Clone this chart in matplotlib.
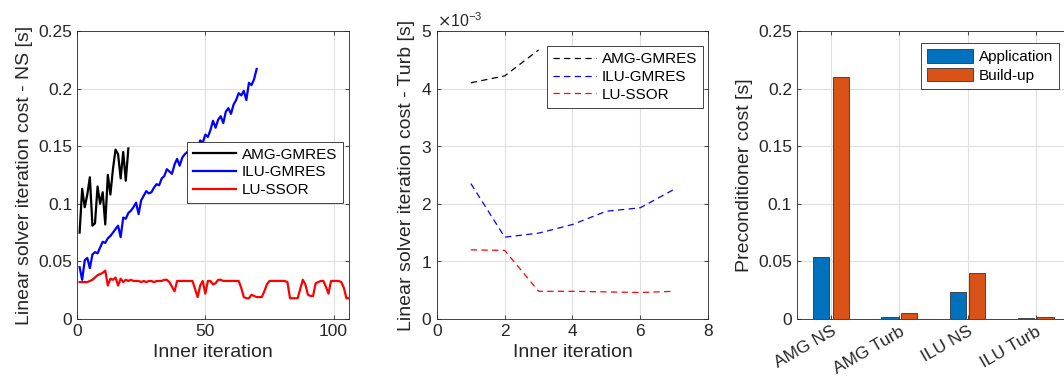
import numpy as np
import matplotlib.pyplot as plt
from matplotlib.ticker import FormatStrFormatter

plt.rcParams["font.family"] = ["Liberation Sans", "DejaVu Sans"]
plt.rcParams["font.size"] = 12

# --- data ---
# left panel: cost per inner iteration, Navier-Stokes
amg_ns = [0.075, 0.113, 0.097, 0.108, 0.123, 0.081, 0.083, 0.115, 0.100, 0.110,
          0.082, 0.125, 0.108, 0.130, 0.147, 0.143, 0.122, 0.145, 0.120, 0.148]
ilu_ns = [0.045, 0.034, 0.051, 0.053, 0.044, 0.056, 0.058, 0.057, 0.062, 0.067,
          0.066, 0.070, 0.072, 0.075, 0.078, 0.081, 0.071, 0.088, 0.087, 0.092,
          0.094, 0.097, 0.101, 0.091, 0.103, 0.107, 0.111, 0.109, 0.110, 0.114,
          0.117, 0.116, 0.122, 0.124, 0.130, 0.128, 0.126, 0.134, 0.139, 0.133,
          0.140, 0.143, 0.145, 0.142, 0.148, 0.150, 0.147, 0.155, 0.153, 0.160,
          0.158, 0.164, 0.172, 0.166, 0.173, 0.176, 0.170, 0.180, 0.183, 0.178,
          0.186, 0.190, 0.196, 0.194, 0.198, 0.190, 0.205, 0.203, 0.208, 0.217]
lu_ns = [0.032, 0.032, 0.032, 0.032, 0.033, 0.034, 0.036, 0.038, 0.039, 0.040,
         0.042, 0.029, 0.035, 0.034, 0.036, 0.029, 0.035, 0.032, 0.034, 0.033,
         0.034, 0.033, 0.033, 0.033, 0.032, 0.033, 0.032, 0.033, 0.033, 0.032,
         0.033, 0.033, 0.033, 0.034, 0.034, 0.032, 0.028, 0.024, 0.033, 0.033,
         0.033, 0.033, 0.033, 0.033, 0.033, 0.026, 0.019, 0.029, 0.033, 0.022,
         0.033, 0.033, 0.030, 0.031, 0.034, 0.034, 0.033, 0.033, 0.033, 0.033,
         0.033, 0.033, 0.033, 0.027, 0.019, 0.018, 0.018, 0.021, 0.020, 0.019,
         0.019, 0.019, 0.024, 0.030, 0.033, 0.033, 0.033, 0.033, 0.033, 0.033,
         0.033, 0.032, 0.018, 0.018, 0.018, 0.018, 0.026, 0.034, 0.030, 0.021,
         0.020, 0.020, 0.031, 0.032, 0.033, 0.033, 0.028, 0.022, 0.033, 0.033,
         0.033, 0.033, 0.032, 0.027, 0.018, 0.018]

# middle panel: turbulence model, values in seconds
amg_turb = [4.10e-3, 4.22e-3, 4.67e-3]
ilu_turb = [2.35e-3, 1.42e-3, 1.49e-3, 1.64e-3, 1.87e-3, 1.93e-3, 2.25e-3]
lu_turb = [1.20e-3, 1.19e-3, 0.48e-3, 0.48e-3, 0.47e-3, 0.46e-3, 0.48e-3]

# right panel: preconditioner cost
bar_labels = ["AMG NS", "AMG Turb", "ILU NS", "ILU Turb"]
application = [0.0538, 0.0017, 0.0234, 0.0005]
buildup = [0.210, 0.0052, 0.0399, 0.0014]

txt = "#262626"
gridc = "#dfdfdf"
TICK_FS = 12.5
LABEL_FS = 14
LEG_FS = 11


def matlab_axes(ax):
    ax.grid(True, color=gridc, lw=0.8)
    ax.set_axisbelow(True)
    for s in ax.spines.values():
        s.set_color(txt)
        s.set_linewidth(0.6)
    ax.tick_params(direction="in", length=3, width=0.6, colors=txt,
                   top=True, right=True, labelsize=TICK_FS)


def matlab_legend(ax, anchor, **kw):
    leg = ax.legend(loc="upper left", bbox_to_anchor=anchor, fancybox=False,
                    framealpha=1, edgecolor=txt, fontsize=LEG_FS, borderpad=0.4,
                    labelspacing=0.25, handletextpad=0.4, borderaxespad=0, **kw)
    leg.get_frame().set_linewidth(0.6)
    return leg


fig = plt.figure(figsize=(10.64, 3.82), dpi=100)
ax1 = fig.add_axes([0.0724, 0.165, 0.2556, 0.754])
ax2 = fig.add_axes([0.4107, 0.165, 0.2547, 0.754])
ax3 = fig.add_axes([0.749, 0.165, 0.2566, 0.754])

# left
ax1.plot(np.arange(1, len(amg_ns) + 1), amg_ns, color="k", lw=1.6, label="AMG-GMRES")
ax1.plot(np.arange(1, len(ilu_ns) + 1), ilu_ns, color="b", lw=1.6, label="ILU-GMRES")
ax1.plot(np.arange(1, len(lu_ns) + 1), lu_ns, color="r", lw=1.6, label="LU-SSOR")
ax1.set_xlim(0, 106)
ax1.set_ylim(0, 0.25)
ax1.set_xticks([0, 50, 100])
ax1.set_yticks([0, 0.05, 0.1, 0.15, 0.2, 0.25])
ax1.yaxis.set_major_formatter(FormatStrFormatter("%g"))
ax1.set_xlabel("Inner iteration", fontsize=LABEL_FS, color=txt)
ax1.set_ylabel("Linear solver iteration cost - NS [s]", fontsize=LABEL_FS, color=txt)
matlab_axes(ax1)
matlab_legend(ax1, (0.403, 0.616), handlelength=2.8)

# middle
ax2.plot(np.arange(1, len(amg_turb) + 1), amg_turb, color="k", ls=(0, (5, 3.5)), lw=0.9, label="AMG-GMRES")
ax2.plot(np.arange(1, len(ilu_turb) + 1), ilu_turb, color="b", ls=(0, (5, 3.5)), lw=0.9, label="ILU-GMRES")
ax2.plot(np.arange(1, len(lu_turb) + 1), lu_turb, color="r", ls=(0, (5, 3.5)), lw=0.9, label="LU-SSOR")
ax2.set_xlim(0, 8)
ax2.set_ylim(0, 5e-3)
ax2.set_xticks([0, 2, 4, 6, 8])
ax2.set_yticks(np.arange(0, 6) * 1e-3)
ax2.ticklabel_format(axis="y", style="sci", scilimits=(-3, -3), useMathText=True)
ax2.yaxis.get_offset_text().set_fontsize(11.5)
ax2.yaxis.get_offset_text().set_color(txt)
ax2.set_xlabel("Inner iteration", fontsize=LABEL_FS, color=txt)
ax2.set_ylabel("Linear solver iteration cost - Turb [s]", fontsize=LABEL_FS, color=txt)
matlab_axes(ax2)
matlab_legend(ax2, (0.405, 0.948), handlelength=2.8)

# right
x = np.arange(1, len(bar_labels) + 1)
w = 0.238
ax3.bar(x - 0.143, application, w, color="#0072BD", edgecolor="#333333", lw=0.6, label="Application")
ax3.bar(x + 0.143, buildup, w, color="#D95319", edgecolor="#333333", lw=0.6, label="Build-up")
ax3.set_xlim(0.5, 4.5)
ax3.set_ylim(0, 0.25)
ax3.set_xticks(x)
ax3.set_xticklabels(bar_labels, rotation=30, ha="right", rotation_mode="anchor")
ax3.set_yticks([0, 0.05, 0.1, 0.15, 0.2, 0.25])
ax3.yaxis.set_major_formatter(FormatStrFormatter("%g"))
ax3.set_ylabel("Preconditioner cost [s]", fontsize=LABEL_FS, color=txt)
matlab_axes(ax3)
matlab_legend(ax3, (0.453, 0.959), handlelength=3.0, handleheight=1.0)

fig.savefig("out.png", dpi=100)
